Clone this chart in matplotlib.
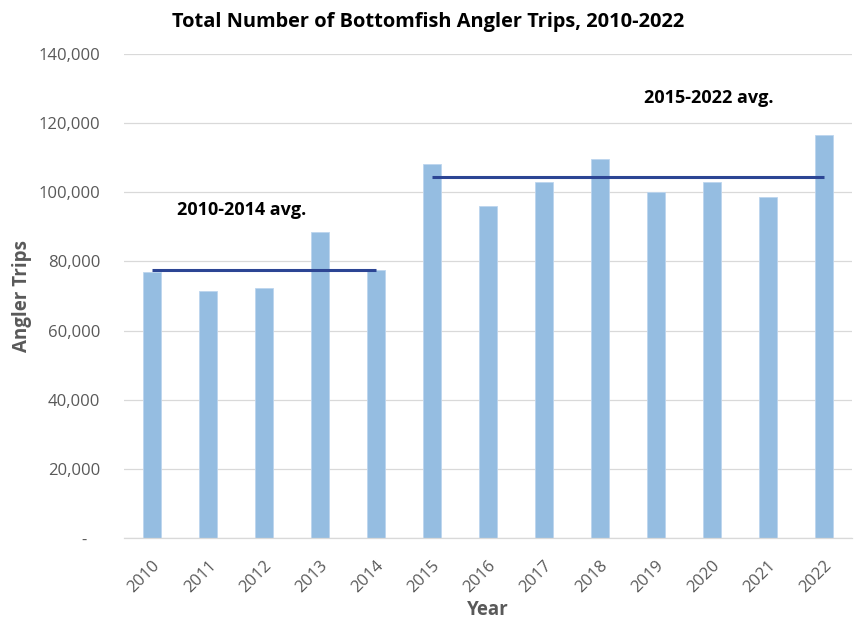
import matplotlib
matplotlib.use("Agg")
import matplotlib.pyplot as plt
from matplotlib.ticker import FuncFormatter
import numpy as np

years = ["2010", "2011", "2012", "2013", "2014", "2015", "2016",
         "2017", "2018", "2019", "2020", "2021", "2022"]
trips = [77030, 71450, 72410, 88610, 77430, 108190, 96040,
         102980, 109640, 100000, 102890, 98640, 116580]
period1 = ["2010", "2011", "2012", "2013", "2014"]
period2 = ["2015", "2016", "2017", "2018", "2019", "2020", "2021", "2022"]
yticks = [0, 20000, 40000, 60000, 80000, 100000, 120000, 140000]

plt.rcParams['font.family'] = ['Open Sans', 'DejaVu Sans']

fig = plt.figure(figsize=(8.57, 6.23), dpi=100)
ax = fig.add_axes([124/857, 1-538/623, (852-124)/857, (538-54)/623])

x = np.arange(len(years))
ax.bar(x, trips, width=0.31, color="#95BDE1", edgecolor="#BDD5EE", linewidth=0.6, zorder=2)

idx1 = [years.index(y) for y in period1]
idx2 = [years.index(y) for y in period2]
avg1 = np.mean([trips[i] for i in idx1])
avg2 = np.mean([trips[i] for i in idx2])
ax.plot([idx1[0], idx1[-1]], [avg1, avg1], color="#2C4594", lw=2.2, zorder=3, solid_capstyle='butt')
ax.plot([idx2[0], idx2[-1]], [avg2, avg2], color="#2C4594", lw=2.2, zorder=3, solid_capstyle='butt')

ax.text(1.607, 94900, "2010-2014 avg.", fontsize=13, fontweight='bold', ha='center', va='center', color='black')
ax.text(9.94, 127300, "2015-2022 avg.", fontsize=13, fontweight='bold', ha='center', va='center', color='black')

ax.set_xlim(-0.5, len(years) - 0.5)
ax.set_ylim(0, 140000)
ax.set_yticks(yticks)
ax.yaxis.set_major_formatter(FuncFormatter(lambda v, p: "-   " if v == 0 else f"{int(v):,}"))
ax.set_xticks(x)
ax.set_xticklabels(years, rotation=45, ha='right', va='top', rotation_mode='anchor')
ax.tick_params(axis='y', length=0, colors="#595959", labelsize=12, pad=17)
ax.tick_params(axis='x', length=0, colors="#595959", labelsize=12, pad=14)
ax.grid(axis='y', color="#D9D9D9", lw=0.9, zorder=0)
ax.set_axisbelow(True)
for s in ["top", "right", "left"]:
    ax.spines[s].set_visible(False)
ax.spines["bottom"].set_color("#D9D9D9")
ax.spines["bottom"].set_linewidth(0.9)

ax.set_ylabel("Angler Trips", fontsize=13.5, fontweight='bold', color="#595959")
ax.yaxis.set_label_coords(-0.126, 0.5)
ax.set_xlabel("Year", fontsize=13.5, fontweight='bold', color="#595959")
ax.xaxis.set_label_coords(0.5, -0.129)

fig.text(428/857, 1-22/623, "Total Number of Bottomfish Angler Trips, 2010-2022",
         fontsize=14.4, fontweight='bold', ha='center', va='center', color='black')

fig.savefig("out.png", dpi=100)
